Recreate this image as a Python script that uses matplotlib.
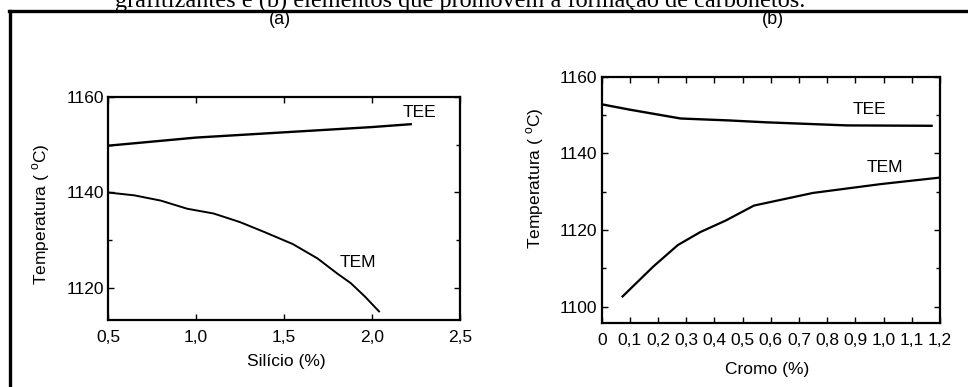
import matplotlib
matplotlib.use("Agg")
import matplotlib.pyplot as plt
from matplotlib.lines import Line2D
from matplotlib.ticker import MultipleLocator, FuncFormatter

plt.rcParams['font.family'] = ['Liberation Sans', 'DejaVu Sans']
plt.rcParams['mathtext.fontset'] = 'custom'
plt.rcParams['mathtext.rm'] = 'Liberation Sans'

# (a) silicio
si_tee = [0.5, 1.0, 1.5, 2.0, 2.22]
tee_a = [1149.8, 1151.5, 1152.6, 1153.7, 1154.3]
si_tem = [0.5, 0.65, 0.8, 0.95, 1.1, 1.25, 1.39, 1.55, 1.69, 1.8, 1.88, 1.96, 2.04]
tem_a = [1140.0, 1139.4, 1138.3, 1136.6, 1135.6, 1133.8, 1131.7, 1129.2, 1126.2, 1123.1, 1121.0, 1118.2, 1115.1]

# (b) cromo
cr_tee = [0.0, 0.1, 0.28, 0.45, 0.585, 0.87, 1.17]
tee_b = [1152.8, 1151.4, 1149.1, 1148.6, 1148.1, 1147.3, 1147.2]
cr_tem = [0.074, 0.183, 0.27, 0.35, 0.44, 0.54, 0.75, 0.99, 1.2]
tem_b = [1102.7, 1110.5, 1116.1, 1119.5, 1122.5, 1126.4, 1129.7, 1132.0, 1133.7]

caption = "grafitizantes e (b) elementos que promovem a formação de carbonetos."
ylab = "Temperatura ( $^{\\rm o}$C)"

fig = plt.figure(figsize=(9.68, 3.87), dpi=100)


def comma(v, pos):
    s = "%g" % v if abs(v) < 1e-9 else "%.1f" % v
    return s.replace(".", ",")


def style(ax):
    for sp in ax.spines.values():
        sp.set_linewidth(1.6)
    ax.tick_params(which='both', direction='in', top=True, right=True,
                   labelsize=12.5, width=1.0)
    ax.tick_params(axis='x', pad=7)
    ax.tick_params(axis='y', pad=3)
    ax.tick_params(which='major', length=4)
    ax.tick_params(which='minor', length=3)


ax1 = fig.add_axes([0.1116, 0.1731, 0.3636, 0.5763])
ax1.plot(si_tee, tee_a, color='black', lw=1.7)
ax1.plot(si_tem, tem_a, color='black', lw=1.4)
ax1.set_xlim(0.5, 2.5)
ax1.set_ylim(1113.3, 1160)
ax1.xaxis.set_major_locator(MultipleLocator(0.5))
ax1.yaxis.set_major_locator(MultipleLocator(20))
ax1.yaxis.set_minor_locator(MultipleLocator(10))
ax1.xaxis.set_major_formatter(FuncFormatter(comma))
style(ax1)
ax1.text(2.27, 1156.7, "TEE", ha='center', va='center', fontsize=12.5)
ax1.text(1.92, 1125.3, "TEM", ha='center', va='center', fontsize=12.5)
ax1.set_xlabel("Silício (%)", fontsize=12.5)
ax1.xaxis.label.set_va('center')
ax1.xaxis.set_label_coords(0.506, -0.187)
ax1.set_ylabel(ylab, fontsize=12.5)
ax1.yaxis.label.set_va('center')
ax1.yaxis.set_label_coords(-0.19, 0.475)

ax2 = fig.add_axes([0.6216, 0.1646, 0.3495, 0.6372])
ax2.plot(cr_tee, tee_b, color='black', lw=1.7)
ax2.plot(cr_tem, tem_b, color='black', lw=1.6)
ax2.set_xlim(0, 1.2)
ax2.set_ylim(1095.7, 1160)
ax2.xaxis.set_major_locator(MultipleLocator(0.1))
ax2.yaxis.set_major_locator(MultipleLocator(20))
ax2.yaxis.set_minor_locator(MultipleLocator(10))
ax2.xaxis.set_major_formatter(FuncFormatter(comma))
style(ax2)
ax2.text(0.95, 1151.4, "TEE", ha='center', va='center', fontsize=12.5)
ax2.text(1.005, 1136.3, "TEM", ha='center', va='center', fontsize=12.5)
ax2.set_xlabel("Cromo (%)", fontsize=12.5)
ax2.xaxis.label.set_va('center')
ax2.xaxis.set_label_coords(0.49, -0.189)
ax2.set_ylabel(ylab, fontsize=12.5)
ax2.yaxis.label.set_va('center')
ax2.yaxis.set_label_coords(-0.197, 0.589)

fig.text(280 / 968, 1 - 19 / 387, "(a)", ha='center', va='center', fontsize=13)
fig.text(773 / 968, 1 - 20 / 387, "(b)", ha='center', va='center', fontsize=13)

# cut-off caption and frame of the scanned figure
fig.text(460 / 968, 1 - 7 / 387, caption, ha='center', va='baseline',
         fontsize=17.5, family='Liberation Serif')
fig.add_artist(Line2D([9.5 / 968, 9.5 / 968], [0, 1 - 11 / 387],
                      color='black', lw=2.4, transform=fig.transFigure))
fig.add_artist(Line2D([8.5 / 968, 1.0], [1 - 11 / 387, 1 - 11 / 387],
                      color='black', lw=2.4, transform=fig.transFigure))

fig.savefig("out.png", dpi=100)
